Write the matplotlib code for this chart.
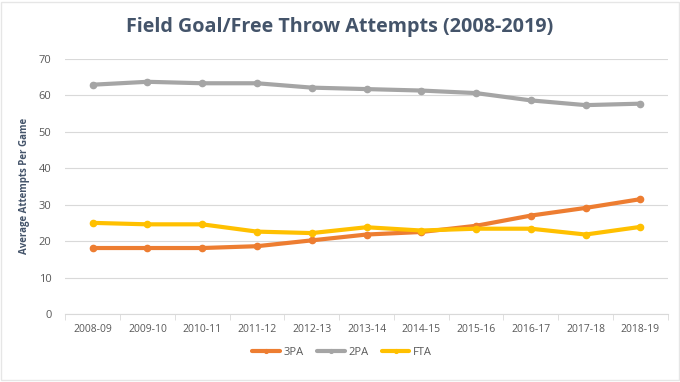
import numpy as np
import matplotlib
matplotlib.use("Agg")
import matplotlib.pyplot as plt

# seasons on the x axis
seasons = ["2008-09", "2009-10", "2010-11", "2011-12", "2012-13", "2013-14",
           "2014-15", "2015-16", "2016-17", "2017-18", "2018-19"]

# average attempts per game
three_pa = [18.1, 18.1, 18.1, 18.6, 20.2, 21.8, 22.5, 24.2, 27.0, 29.1, 31.5]
two_pa = [62.9, 63.7, 63.3, 63.3, 62.1, 61.7, 61.3, 60.6, 58.6, 57.3, 57.7]
fta = [25.0, 24.6, 24.6, 22.6, 22.2, 23.8, 22.9, 23.4, 23.4, 21.8, 23.9]

series = [("3PA", three_pa, "#ED7D31"),
          ("2PA", two_pa, "#A5A5A5"),
          ("FTA", fta, "#FFC000")]

plt.rcParams["font.family"] = ["Open Sans", "DejaVu Sans"]

fig = plt.figure(figsize=(6.8, 3.82), dpi=100)
ax = fig.add_axes([0.096, 0.178, 0.886, 0.668])

x = np.arange(len(seasons))
for name, vals, col in series:
    ax.plot(x, vals, color=col, lw=3, marker="o", ms=4.5, label=name,
            solid_capstyle="round")

ax.set_xlim(-0.5, len(seasons) - 0.5)
ax.set_ylim(0, 70)
ax.set_yticks(range(0, 71, 10))
ax.set_xticks(x)
ax.set_xticklabels(seasons)
ax.set_xticks(np.arange(-0.5, len(seasons)), minor=True)

ax.grid(axis="y", color="#D9D9D9", lw=0.8)
ax.set_axisbelow(True)
for s in ["top", "right", "left"]:
    ax.spines[s].set_visible(False)
ax.spines["bottom"].set_color("#D9D9D9")

ax.tick_params(axis="y", length=0, labelsize=8, colors="#595959", pad=10)
ax.tick_params(axis="x", which="major", length=0, labelsize=7.5,
               colors="#595959", pad=7)
ax.tick_params(axis="x", which="minor", length=4, color="#D9D9D9")

ax.set_ylabel("Average Attempts Per Game", fontsize=7, fontweight="bold",
              color="#44546A", labelpad=6)

fig.suptitle("Field Goal/Free Throw Attempts (2008-2019)", x=0.5, y=0.955,
             fontsize=14.2, fontweight="bold", color="#44546A")

leg = fig.legend(*ax.get_legend_handles_labels(), loc="center",
                 bbox_to_anchor=(0.503, 0.078), ncol=3,
                 frameon=False, fontsize=8, handlelength=2.5,
                 columnspacing=1.2, handletextpad=0.3, markerscale=0.6)
for t in leg.get_texts():
    t.set_color("#595959")

fig.patches.append(plt.Rectangle((0.002, 0.004), 0.996, 0.99,
                                 transform=fig.transFigure, fill=False,
                                 edgecolor="#E6E6E6", lw=1))

fig.savefig("out.png", dpi=100)
